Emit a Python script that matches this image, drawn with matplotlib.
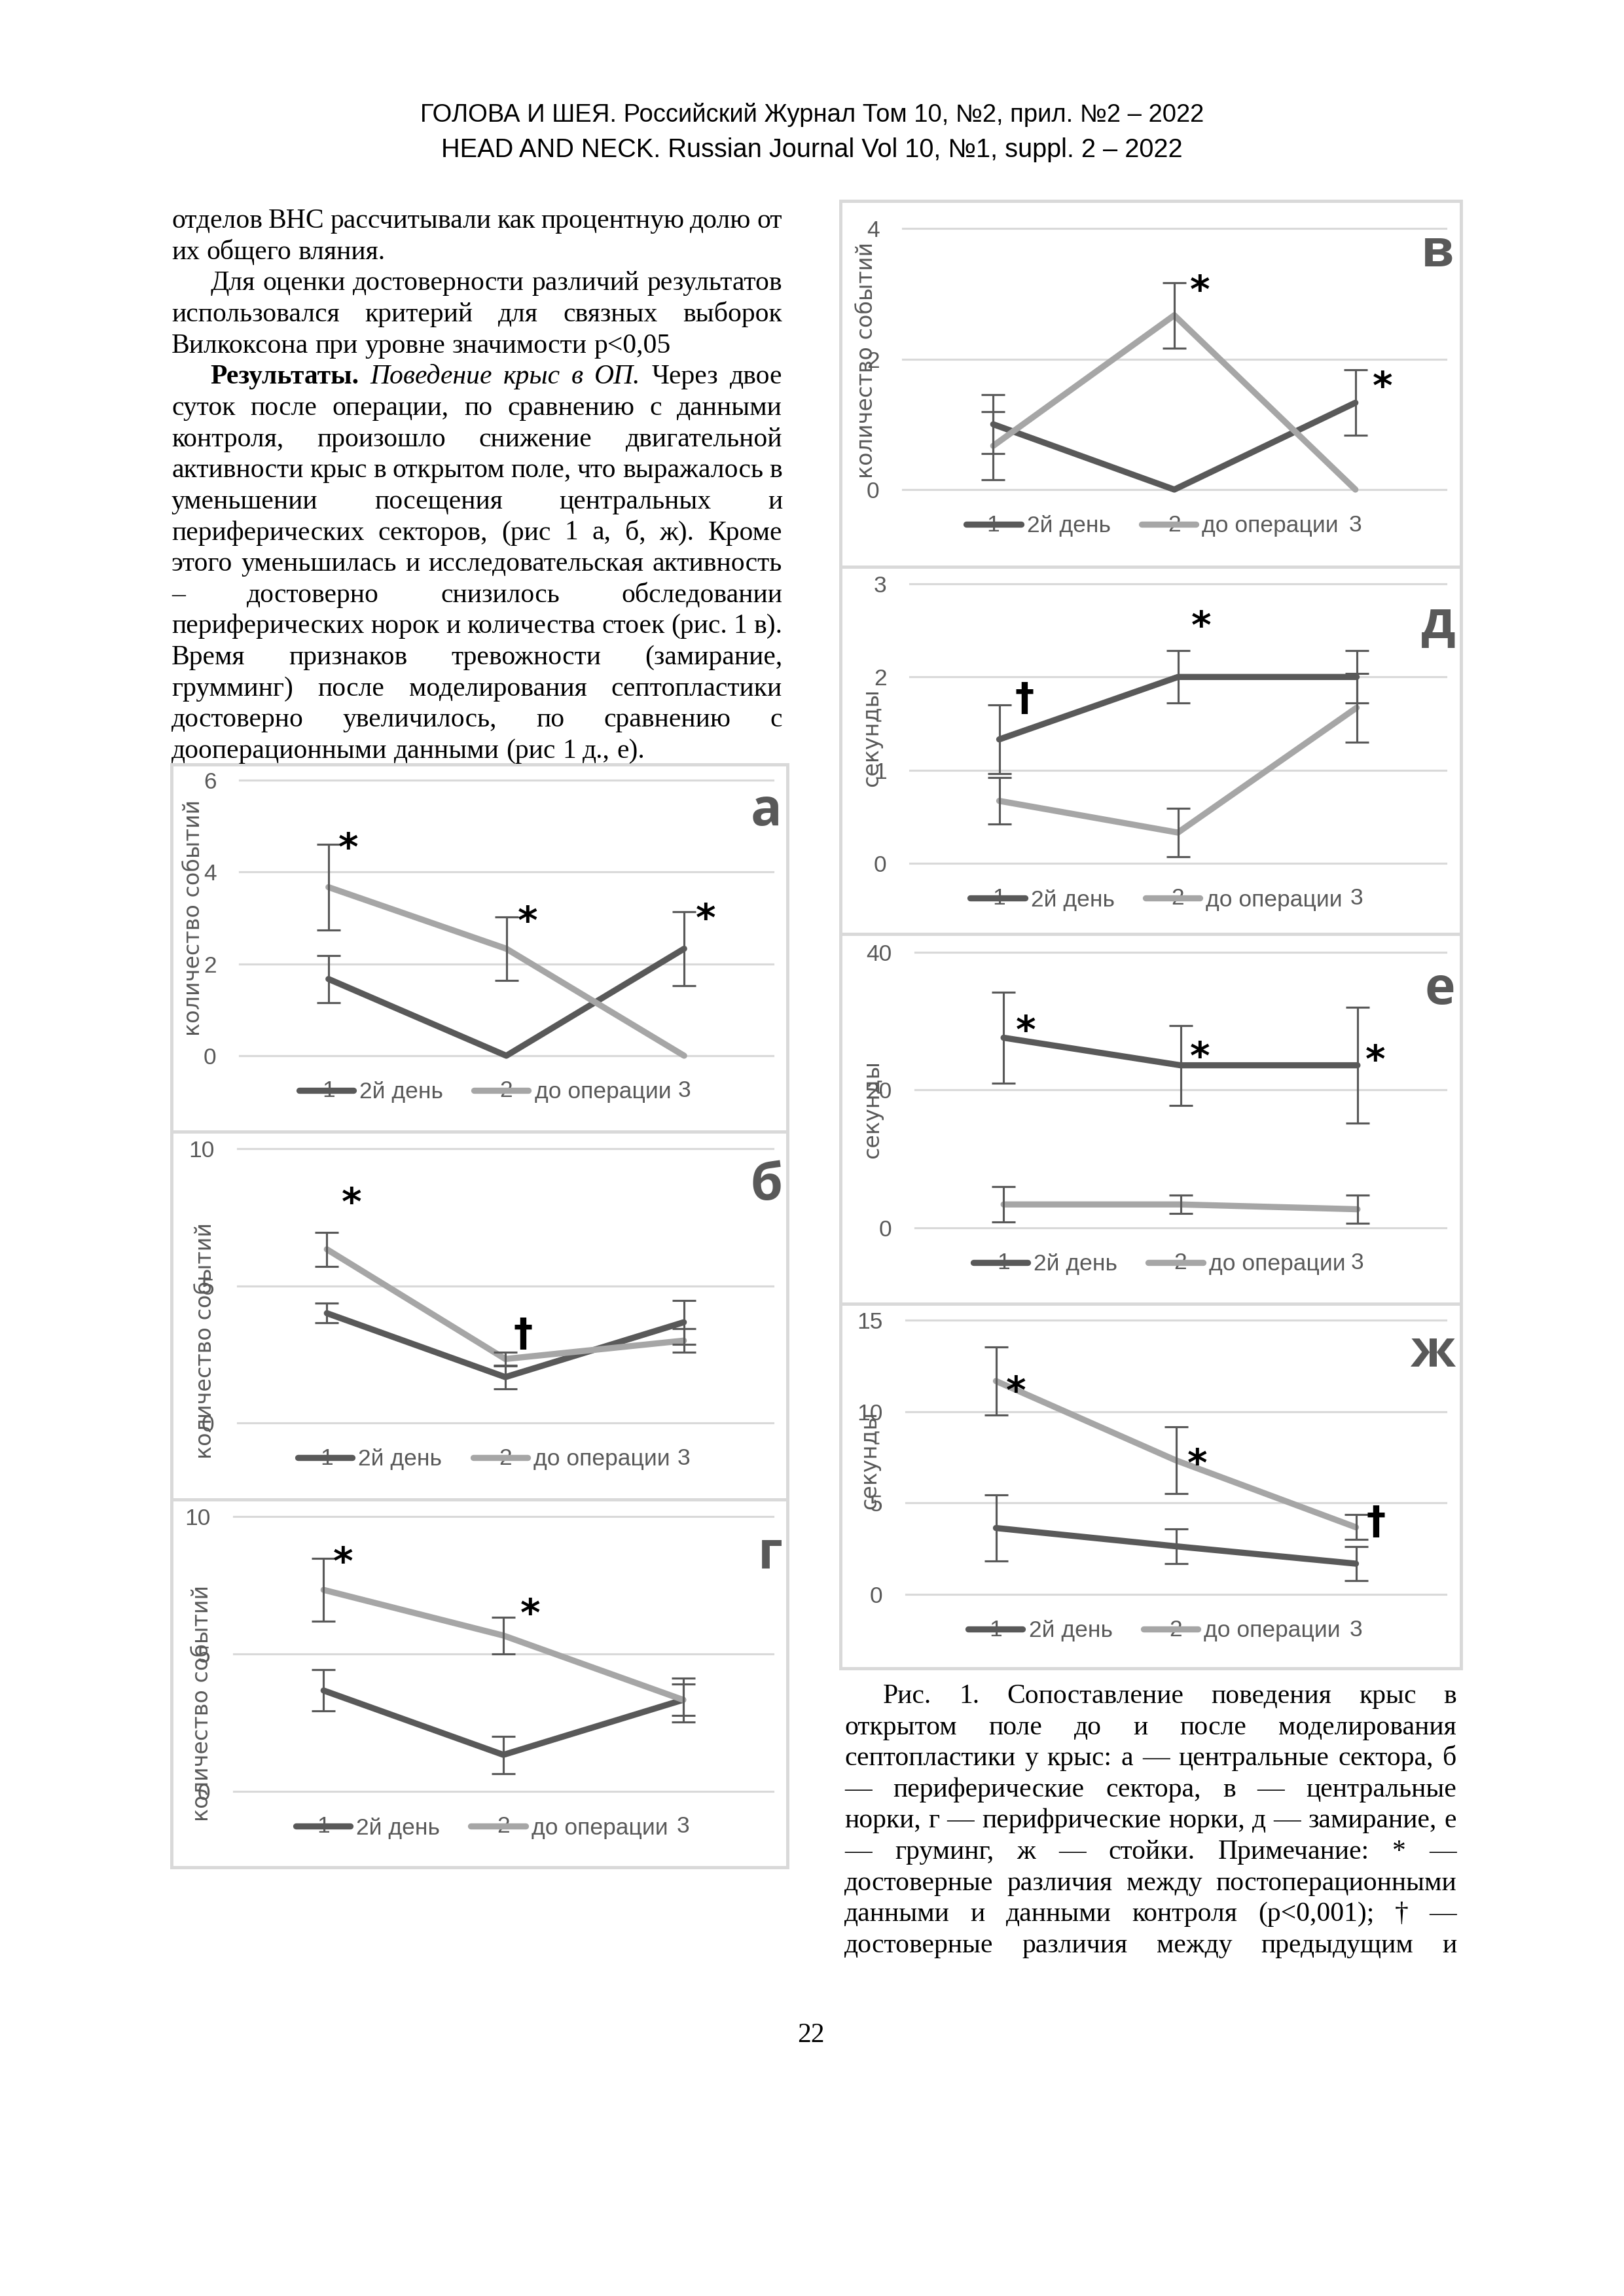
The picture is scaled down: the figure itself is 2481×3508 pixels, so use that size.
import numpy as np
import matplotlib.pyplot as plt
from matplotlib import font_manager
from matplotlib.patches import Rectangle

nan = np.nan

# ---- данные графиков ----
CATS = [1, 2, 3]
SERIES = ['2й день', 'до операции']

# а — центральные сектора
a_day2 = [1.67, 0.0, 2.33]
a_day2_err = [0.51, nan, 0.81]
a_pre = [3.67, 2.33, 0.0]
a_pre_err = [0.93, 0.69, nan]
a_marks = [(1.11, 4.5, '*'), (2.12, 2.9, '*'), (3.12, 2.96, '*')]

# б — периферические сектора
b_day2 = [4.0, 1.67, 3.67]
b_day2_err = [0.36, 0.42, 0.8]
b_pre = [6.33, 2.33, 3.0]
b_pre_err = [0.62, 0.25, 0.43]
b_marks = [(1.14, 7.99, '*'), (2.1, 3.22, '†')]

# г — периферические норки
g_day2 = [3.67, 1.33, 3.33]
g_day2_err = [0.75, 0.68, 0.8]
g_pre = [7.33, 5.67, 3.33]
g_pre_err = [1.14, 0.67, 0.57]
g_marks = [(1.11, 8.3, '*'), (2.15, 6.41, '*')]

# в — центральные норки
v_day2 = [1.0, 0.0, 1.33]
v_day2_err = [0.45, nan, 0.5]
v_pre = [0.67, 2.67, 0.0]
v_pre_err = [0.52, 0.5, nan]
v_marks = [(2.14, 3.03, '*'), (3.15, 1.56, '*')]

# д — замирание
d_day2 = [1.33, 2.0, 2.0]
d_day2_err = [0.37, 0.28, 0.28]
d_pre = [0.67, 0.33, 1.67]
d_pre_err = [0.25, 0.26, 0.37]
d_marks = [(1.14, 1.76, '†'), (2.13, 2.53, '*')]

# е — груминг
e_day2 = [27.6, 23.6, 23.6]
e_day2_err = [6.6, 5.8, 8.4]
e_pre = [3.4, 3.4, 2.7]
e_pre_err = [2.55, 1.35, 2.05]
e_marks = [(1.125, 28.5, '*'), (2.11, 24.7, '*'), (3.1, 24.2, '*')]

# ж — стойки
zh_day2 = [3.63, 2.63, 1.68]
zh_day2_err = [1.81, 0.94, 0.92]
zh_pre = [11.67, 7.33, 3.67]
zh_pre_err = [1.86, 1.82, 0.68]
zh_marks = [(1.11, 11.05, '*'), (2.12, 7.08, '*'), (3.11, 3.93, '†')]

# ---- текст страницы ----
HEADER = ['ГОЛОВА И ШЕЯ. Российский Журнал Том 10, №2, прил. №2 – 2022',
          'HEAD AND NECK. Russian Journal Vol 10, №1, suppl. 2 – 2022']

# (строка, выравнивать по ширине, красная строка)
LEFT_TEXT = [
    ('отделов ВНС рассчитывали как процентную долю от', True, False),
    ('их общего вляния.', False, False),
    ('Для оценки достоверности различий результатов', True, True),
    ('использовался критерий для связных выборок', True, False),
    ('Вилкоксона при уровне значимости p<0,05', False, False),
    ('**Результаты. _Поведение _крыс _в _ОП. Через двое', True, True),
    ('суток после операции, по сравнению с данными', True, False),
    ('контроля, произошло снижение двигательной', True, False),
    ('активности крыс в открытом поле, что выражалось в', True, False),
    ('уменьшении посещения центральных и', True, False),
    ('периферических секторов, (рис 1 а, б, ж). Кроме', True, False),
    ('этого уменьшилась и исследовательская активность', True, False),
    ('– достоверно снизилось обследовании', True, False),
    ('периферических норок и количества стоек (рис. 1 в).', True, False),
    ('Время признаков тревожности (замирание,', True, False),
    ('грумминг) после моделирования септопластики', True, False),
    ('достоверно увеличилось, по сравнению с', True, False),
    ('дооперационными данными (рис 1 д., е).', False, False),
]

CAPTION = [
    ('Рис. 1. Сопоставление поведения крыс в', True, True),
    ('открытом поле до и после моделирования', True, False),
    ('септопластики у крыс: а — центральные сектора, б', True, False),
    ('— периферические сектора, в — центральные', True, False),
    ('норки, г — перифрические норки, д — замирание, е', True, False),
    ('— груминг, ж — стойки. Примечание: * —', True, False),
    ('достоверные различия между постоперационными', True, False),
    ('данными и данными контроля (p<0,001); † —', True, False),
    ('достоверные различия между предыдущим и', True, False),
]

# ---- стиль ----
DARK = '#595959'
LIGHT = '#a6a6a6'
GRID = '#d9d9d9'
SERIF = 'Liberation Serif'
names = {f.name for f in font_manager.fontManager.ttflist}
NARROW = 'Liberation Sans Narrow' if 'Liberation Sans Narrow' in names else 'Liberation Sans'
TICK_SIZE = 9.5 if NARROW == 'Liberation Sans Narrow' else 8.5

W, H = 2481, 3508
PX = 300 / 72

fig = plt.figure(figsize=(W / 300, H / 300), dpi=300)
page = fig.add_axes([0, 0, 1, 1])
page.set_xlim(0, W)
page.set_ylim(H, 0)
page.axis('off')
R = fig.canvas.get_renderer()


def parse(word):
    if word.startswith('**'):
        return word[2:], 'bold', 'normal'
    if word.startswith('_'):
        return word[1:], 'normal', 'italic'
    return word, 'normal', 'normal'


def text_line(s, x0, x1, y, justify, indent, size=10):
    parts = [parse(w) for w in s.split()]
    arts = [page.text(0, y, w, fontsize=size, family=SERIF, weight=wt, style=st,
                      va='baseline', ha='left') for w, wt, st in parts]
    ws = [a.get_window_extent(renderer=R).width for a in arts]
    x = x0 + (59 if indent else 0)
    gap = 0.25 * size * PX
    if justify and len(arts) > 1:
        gap = (x1 - x - sum(ws)) / (len(arts) - 1)
    for a, w in zip(arts, ws):
        a.set_x(x)
        x += w + gap


def fit_text(s, xc, y, width, fam):
    t = page.text(xc, y, s, fontsize=11, family=fam, ha='center', va='baseline')
    w = t.get_window_extent(renderer=R).width
    t.set_fontsize(11 * width / w)


fit_text(HEADER[0], 1241, 186, 1199, NARROW)
fit_text(HEADER[1], 1240, 240, 1137, NARROW)

for i, (s, j, ind) in enumerate(LEFT_TEXT):
    text_line(s, 262, 1195, 348 + 47.65 * i, j, ind)
for i, (s, j, ind) in enumerate(CAPTION):
    text_line(s, 1290, 2225, 2602 + 47.6 * i, j, ind)

page.text(1239, 3120, '22', fontsize=10, family=SERIF, ha='center', va='baseline')

PANELS = [
    dict(letter='а', day2=a_day2, day2_err=a_day2_err, pre=a_pre, pre_err=a_pre_err,
         marks=a_marks, yticks=[0, 2, 4, 6], ylabel='количество событий',
         box=(262, 1168, 1203, 1729), plot=(366, 1192, 1181, 1613),
         lab=(-0.087, 0.5), let=(1195, 1261)),
    dict(letter='б', day2=b_day2, day2_err=b_day2_err, pre=b_pre, pre_err=b_pre_err,
         marks=b_marks, yticks=[0, 5, 10], ylabel='количество событий',
         box=(262, 1729, 1203, 2291), plot=(363, 1755, 1181, 2174),
         lab=(-0.06, 0.30), let=(1196, 1833)),
    dict(letter='г', day2=g_day2, day2_err=g_day2_err, pre=g_pre, pre_err=g_pre_err,
         marks=g_marks, yticks=[0, 5, 10], ylabel='количество событий',
         box=(262, 2291, 1203, 2853), plot=(357, 2317, 1181, 2737),
         lab=(-0.059, 0.32), let=(1196, 2395)),
    dict(letter='в', day2=v_day2, day2_err=v_day2_err, pre=v_pre, pre_err=v_pre_err,
         marks=v_marks, yticks=[0, 2, 4], ylabel='количество событий',
         box=(1284, 307, 2232, 866), plot=(1379, 349, 2209, 748),
         lab=(-0.067, 0.495), let=(2221, 407)),
    dict(letter='д', day2=d_day2, day2_err=d_day2_err, pre=d_pre, pre_err=d_pre_err,
         marks=d_marks, yticks=[0, 1, 2, 3], ylabel='секунды',
         box=(1284, 866, 2232, 1427), plot=(1390, 892, 2209, 1319),
         lab=(-0.071, 0.45), let=(2224, 975)),
    dict(letter='е', day2=e_day2, day2_err=e_day2_err, pre=e_pre, pre_err=e_pre_err,
         marks=e_marks, yticks=[0, 20, 40], ylabel='секунды',
         box=(1284, 1427, 2232, 1992), plot=(1398, 1455, 2209, 1876),
         lab=(-0.08, 0.43), let=(2223, 1534)),
    dict(letter='ж', day2=zh_day2, day2_err=zh_day2_err, pre=zh_pre, pre_err=zh_pre_err,
         marks=zh_marks, yticks=[0, 5, 10, 15], ylabel='секунды',
         box=(1284, 1992, 2232, 2549), plot=(1384, 2017, 2209, 2436),
         lab=(-0.067, 0.49), let=(2223, 2088)),
]

for p in PANELS:
    x0, y0, x1, y1 = p['box']
    page.add_patch(Rectangle((x0, y0), x1 - x0, y1 - y0, fill=False, ec=GRID, lw=1.2))
    l, t, r, b = p['plot']
    ax = fig.add_axes([l / W, 1 - b / H, (r - l) / W, (b - t) / H])
    ax.set_facecolor('none')
    ax.plot(CATS, p['day2'], color=DARK, lw=2.25, solid_capstyle='round',
            solid_joinstyle='round', zorder=3, clip_on=False, label=SERIES[0])
    ax.plot(CATS, p['pre'], color=LIGHT, lw=2.25, solid_capstyle='round',
            solid_joinstyle='round', zorder=3.5, clip_on=False, label=SERIES[1])
    for vals, errs in ((p['day2'], p['day2_err']), (p['pre'], p['pre_err'])):
        ax.errorbar(CATS, vals, yerr=errs, fmt='none', ecolor=DARK, elinewidth=0.75,
                    capsize=4.4, capthick=0.75, zorder=4)
    yt = p['yticks']
    ax.set_xlim(0.5, 3.5)
    ax.set_ylim(yt[0], yt[-1])
    ax.set_yticks(yt)
    ax.set_xticks(CATS)
    ax.grid(axis='y', color=GRID, lw=0.75)
    ax.grid(axis='x', visible=False)
    ax.set_axisbelow(True)
    for gl in ax.get_ygridlines():
        gl.set_clip_on(False)
    for s in ax.spines.values():
        s.set_visible(False)
    ax.tick_params(length=0, labelcolor=DARK, labelsize=TICK_SIZE)
    ax.tick_params(axis='y', pad=8.5)
    ax.tick_params(axis='x', pad=9)
    for lab in ax.get_xticklabels() + ax.get_yticklabels():
        lab.set_family(NARROW)
    ax.set_ylabel(p['ylabel'], fontsize=8, color=DARK, family='DejaVu Sans')
    ax.yaxis.label.set_va('center')
    ax.yaxis.set_label_coords(*p['lab'])
    ax.legend(loc='center', bbox_to_anchor=(0.46, -56 / (b - t)), ncol=2, frameon=False,
              handlelength=2.35, handletextpad=0.26, columnspacing=1.33,
              prop=dict(family=NARROW, size=TICK_SIZE), labelcolor=DARK)
    for mx, my, ms in p['marks']:
        ax.text(mx, my, ms, ha='center', va='center', fontsize=14, fontweight='bold',
                color='black', family='DejaVu Sans', zorder=5)
    page.text(p['let'][0], p['let'][1], p['letter'], ha='right', va='baseline',
              fontsize=19, fontweight='bold', color=DARK, family='Open Sans')

fig.savefig('out.png', dpi=300)
